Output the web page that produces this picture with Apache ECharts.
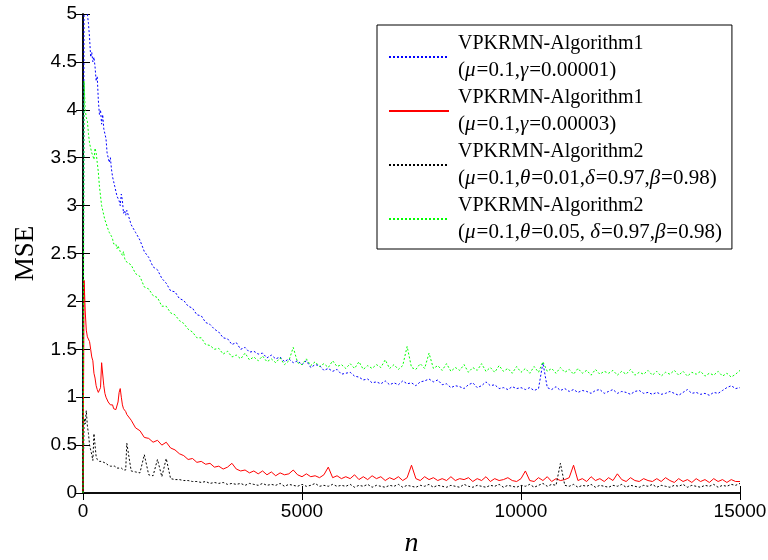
<!DOCTYPE html>
<html>
<head>
<meta charset="utf-8">
<script src="https://cdn.jsdelivr.net/npm/echarts@6/dist/echarts.min.js"></script>
<style>
  html, body { margin: 0; padding: 0; background: #fff; }
  #chart { width: 768px; height: 560px; }
</style>
</head>
<body>
<div id="chart"></div>
<script>
// Iteration index of each stored sample: every 25 up to 1000, then every 100.
const iters = [];
for (let n = 0; n <= 1000; n += 25) iters.push(n);
for (let n = 1100; n <= 15000; n += 100) iters.push(n);

// Legend text, two lines per curve.
const legendLines = [
  ['VPKRMN-Algorithm1', '(μ=0.1,γ=0.00001)'],
  ['VPKRMN-Algorithm1', '(μ=0.1,γ=0.00003)'],
  ['VPKRMN-Algorithm2', '(μ=0.1,θ=0.01,δ=0.97,β=0.98)'],
  ['VPKRMN-Algorithm2', '(μ=0.1,θ=0.05, δ=0.97,β=0.98)']
];

const xTicks = [0, 5000, 10000, 15000];
const yTicks = [0, 0.5, 1, 1.5, 2, 2.5, 3, 3.5, 4, 4.5, 5];

// MSE curves
const mseAlg1G1 = [
  0, 5.4, 5.2, 5.1, 5.0, 4.9, 4.75, 4.55, 4.6, 4.5,
  4.55, 4.45, 4.3, 4.35, 4.1, 3.95, 4.0, 3.85, 3.95, 3.8,
  3.75, 3.7, 3.55, 3.5, 3.45, 3.5, 3.38, 3.3, 3.25, 3.2,
  3.15, 3.1, 3.08, 3.05, 3.0, 3.12, 3.05, 2.92, 2.95, 2.9,
  2.95,
  2.8, 2.72, 2.64, 2.52, 2.46, 2.36, 2.33, 2.24, 2.19, 2.11,
  2.1, 2.03, 2.01, 1.95, 1.93, 1.86, 1.85, 1.78, 1.76, 1.71,
  1.68, 1.62, 1.61, 1.55, 1.57, 1.5, 1.52, 1.47, 1.48, 1.45,
  1.46, 1.41, 1.44, 1.4, 1.42, 1.37, 1.4, 1.36, 1.38, 1.34,
  1.38, 1.31, 1.34, 1.33, 1.28, 1.3, 1.27, 1.29, 1.24, 1.25,
  1.26, 1.22, 1.21, 1.18, 1.19, 1.15, 1.16, 1.14, 1.17, 1.13,
  1.15, 1.13, 1.17, 1.14, 1.15, 1.12, 1.16, 1.17, 1.19, 1.16,
  1.18, 1.13, 1.14, 1.1, 1.12, 1.11, 1.09, 1.13, 1.15, 1.1,
  1.12, 1.16, 1.12, 1.13, 1.09, 1.1, 1.08, 1.11, 1.09, 1.1,
  1.08, 1.1, 1.07, 1.09, 1.36, 1.1, 1.08, 1.11, 1.07, 1.09,
  1.06, 1.08, 1.05, 1.07, 1.06, 1.04, 1.07, 1.08, 1.04, 1.06,
  1.08, 1.04, 1.06, 1.05, 1.03, 1.06, 1.07, 1.04, 1.05, 1.03,
  1.05, 1.03, 1.04, 1.06, 1.04, 1.02, 1.05, 1.08, 1.04, 1.05,
  1.03, 1.04, 1.02, 1.05, 1.04, 1.07, 1.1, 1.12, 1.09, 1.1
];

const mseAlg1G3 = [
  0, 2.22, 1.9, 1.7, 1.63, 1.62, 1.58, 1.5, 1.42, 1.38,
  1.25, 1.2, 1.12, 1.08, 1.05, 1.04, 1.1, 1.36, 1.34, 1.12,
  1.04, 1.0, 0.98, 0.95, 0.94, 0.92, 0.9, 0.92, 0.88, 0.9,
  0.87, 0.88, 0.95, 1.05, 1.09, 1.0, 0.92, 0.88, 0.86, 0.85,
  0.82,
  0.76, 0.68, 0.65, 0.58, 0.57, 0.53, 0.55, 0.5, 0.53, 0.47,
  0.45, 0.41, 0.39, 0.35, 0.36, 0.32, 0.33, 0.3, 0.31, 0.27,
  0.28, 0.25, 0.27, 0.31, 0.25, 0.23, 0.24, 0.21, 0.23, 0.2,
  0.23, 0.19, 0.22, 0.18, 0.21, 0.19, 0.2, 0.24, 0.19, 0.17,
  0.2, 0.17, 0.18, 0.16, 0.19, 0.27, 0.16, 0.18, 0.15, 0.17,
  0.15, 0.19, 0.14, 0.17, 0.14, 0.18, 0.15, 0.17, 0.13, 0.16,
  0.14, 0.17, 0.13, 0.16, 0.29, 0.15, 0.13, 0.17, 0.14, 0.16,
  0.13, 0.15, 0.13, 0.17, 0.13, 0.15, 0.14, 0.16, 0.12, 0.15,
  0.13, 0.17, 0.12, 0.15, 0.13, 0.14, 0.16, 0.13, 0.12, 0.15,
  0.23, 0.13, 0.12, 0.16, 0.13, 0.17, 0.12, 0.15, 0.13, 0.14,
  0.16, 0.29, 0.13, 0.15, 0.12, 0.17, 0.13, 0.15, 0.12, 0.16,
  0.13, 0.2, 0.14, 0.12, 0.16, 0.13, 0.12, 0.15, 0.13, 0.12,
  0.15, 0.12, 0.16, 0.13, 0.11, 0.15, 0.12, 0.14, 0.11, 0.15,
  0.12, 0.14, 0.11, 0.15, 0.12, 0.14, 0.11, 0.14, 0.12, 0.12
];

const mseAlg2T1 = [
  0, 0.78, 0.72, 0.86, 0.7, 0.62, 0.5, 0.45, 0.4, 0.34,
  0.62, 0.6, 0.38, 0.35, 0.34, 0.33, 0.32, 0.33, 0.31, 0.32,
  0.3, 0.31, 0.3, 0.29, 0.3, 0.28, 0.29, 0.28, 0.27, 0.28,
  0.27, 0.26, 0.27, 0.26, 0.25, 0.26, 0.25, 0.24, 0.25, 0.24,
  0.52,
  0.23, 0.22, 0.21, 0.4, 0.19, 0.18, 0.35, 0.17, 0.36, 0.15,
  0.14, 0.14, 0.13, 0.13, 0.12, 0.12, 0.11, 0.12, 0.1, 0.11,
  0.1, 0.11, 0.09, 0.1, 0.09, 0.1, 0.08, 0.1, 0.09, 0.08,
  0.1, 0.08, 0.09, 0.08, 0.1, 0.07, 0.09, 0.08, 0.07, 0.09,
  0.07, 0.08, 0.1, 0.07, 0.08, 0.07, 0.09, 0.07, 0.08, 0.07,
  0.09, 0.06, 0.08, 0.07, 0.09, 0.06, 0.08, 0.07, 0.06, 0.08,
  0.07, 0.09, 0.06, 0.08, 0.07, 0.06, 0.08, 0.07, 0.09, 0.06,
  0.08, 0.07, 0.06, 0.08, 0.07, 0.06, 0.09, 0.07, 0.06, 0.08,
  0.07, 0.06, 0.08, 0.07, 0.09, 0.06, 0.08, 0.07, 0.06, 0.08,
  0.07, 0.09, 0.06, 0.08, 0.1, 0.07, 0.09, 0.08, 0.31, 0.08,
  0.07, 0.09, 0.06, 0.08, 0.07, 0.09, 0.06, 0.08, 0.07, 0.06,
  0.08, 0.07, 0.09, 0.06, 0.08, 0.07, 0.06, 0.08, 0.07, 0.09,
  0.06, 0.08, 0.07, 0.06, 0.08, 0.07, 0.09, 0.06, 0.08, 0.07,
  0.06, 0.08, 0.07, 0.09, 0.06, 0.08, 0.07, 0.09, 0.08, 0.1
];

const mseAlg2T5 = [
  0, 4.3, 4.0, 3.92, 3.88, 3.75, 3.65, 3.6, 3.55, 3.52,
  3.48, 3.6, 3.55, 3.45, 3.35, 3.2, 3.1, 3.0, 2.95, 2.9,
  2.85, 2.82, 2.78, 2.75, 2.72, 2.7, 2.68, 2.65, 2.6, 2.62,
  2.6, 2.55, 2.58, 2.55, 2.52, 2.5, 2.48, 2.52, 2.45, 2.42,
  2.4,
  2.38, 2.29, 2.26, 2.15, 2.13, 2.06, 2.04, 1.95, 1.95, 1.88,
  1.86, 1.8, 1.77, 1.71, 1.68, 1.62, 1.62, 1.55, 1.54, 1.5,
  1.51, 1.45, 1.48, 1.42, 1.44, 1.4, 1.46, 1.39, 1.42, 1.38,
  1.43, 1.37, 1.4, 1.36, 1.41, 1.34, 1.38, 1.52, 1.36, 1.34,
  1.4, 1.33, 1.37, 1.32, 1.35, 1.31, 1.38, 1.32, 1.34, 1.3,
  1.35, 1.3, 1.37, 1.29, 1.33, 1.3, 1.34, 1.31, 1.39, 1.3,
  1.34, 1.29, 1.33, 1.53, 1.31, 1.29, 1.35, 1.3, 1.46, 1.3,
  1.33, 1.28, 1.35, 1.27, 1.31, 1.28, 1.34, 1.26, 1.31, 1.28,
  1.35, 1.27, 1.31, 1.26, 1.33, 1.27, 1.3, 1.25, 1.32, 1.26,
  1.3, 1.25, 1.32, 1.26, 1.37, 1.27, 1.3, 1.25, 1.31, 1.26,
  1.29, 1.24, 1.3, 1.25, 1.28, 1.23, 1.29, 1.24, 1.27, 1.25,
  1.28, 1.23, 1.27, 1.24, 1.29, 1.23, 1.26, 1.24, 1.28, 1.23,
  1.27, 1.22, 1.26, 1.24, 1.28, 1.23, 1.27, 1.22, 1.26, 1.24,
  1.27, 1.22, 1.25, 1.23, 1.27, 1.22, 1.25, 1.21, 1.24, 1.28
];

const curves = [mseAlg1G1, mseAlg1G3, mseAlg2T1, mseAlg2T5];
const colors = ['#0000ff', '#ff0000', '#000000', '#00ff00'];
const dashes = [[2, 2], 'solid', [2, 2], [2, 2]];

const names = legendLines.map(l => l[0] + ' ' + l[1]);

// Second legend line: Greek symbols in italics, the rest upright.
function paramLine(s) {
  return s.split(/([μγθδβ])/).filter(p => p.length)
    .map(p => /[μγθδβ]/.test(p) ? '{i|' + p + '}' : '{q|' + p + '}').join('');
}

const chart = echarts.init(document.getElementById('chart'), null, { renderer: 'canvas' });

const frameLine = { show: true, lineStyle: { color: '#000', width: 1.5 } };
const innerTick = { show: true, inside: true, length: 7, lineStyle: { color: '#000', width: 1 } };

chart.setOption({
  animation: false,
  backgroundColor: '#fff',
  grid: { left: 83, right: 28, top: 14, bottom: 67, containLabel: false, outerBoundsMode: 'none' },
  legend: {
    data: names,
    orient: 'vertical',
    left: 377,
    top: 25,
    padding: [5, 10, 3, 11],
    itemGap: 0,
    itemWidth: 60,
    itemHeight: 14,
    borderColor: '#000',
    borderWidth: 1,
    backgroundColor: '#fff',
    selectedMode: false,
    itemStyle: { opacity: 0 },
    formatter: function (name) {
      const k = names.indexOf(name);
      const l = legendLines[k];
      return '{p|' + l[0] + '}\n' + paramLine(l[1]);
    },
    textStyle: {
      fontFamily: 'Liberation Serif',
      fontSize: 20,
      lineHeight: 27,
      color: '#000',
      padding: [0, 0, 0, 4],
      rich: {
        p: { fontFamily: 'Liberation Serif', fontSize: 20, lineHeight: 27, color: '#000' },
        q: { fontFamily: 'Liberation Serif', fontSize: 21, lineHeight: 27, color: '#000' },
        i: { fontFamily: 'Liberation Serif', fontStyle: 'italic', fontSize: 21, lineHeight: 27, color: '#000', padding: [0, 1, 0, 0] }
      }
    }
  },
  xAxis: [
    {
      type: 'value', position: 'bottom',
      min: xTicks[0], max: xTicks[xTicks.length - 1], interval: xTicks[1] - xTicks[0],
      axisLine: frameLine, axisTick: innerTick, splitLine: { show: false },
      axisLabel: { color: '#000', fontFamily: 'Liberation Sans', fontSize: 19, margin: 9, formatter: v => String(v) },
      name: 'n', nameLocation: 'middle', nameGap: 37,
      nameTextStyle: { fontFamily: 'Liberation Serif', fontStyle: 'italic', fontSize: 28, color: '#000' }
    },
    {
      type: 'value', position: 'top',
      min: xTicks[0], max: xTicks[xTicks.length - 1], interval: xTicks[1] - xTicks[0],
      axisLine: frameLine, axisTick: innerTick, splitLine: { show: false },
      axisLabel: { show: false }
    }
  ],
  yAxis: [
    {
      type: 'value', position: 'left',
      min: yTicks[0], max: yTicks[yTicks.length - 1], interval: yTicks[1] - yTicks[0],
      axisLine: frameLine, axisTick: innerTick, splitLine: { show: false },
      axisLabel: { color: '#000', fontFamily: 'Liberation Sans', fontSize: 19, margin: 6, formatter: v => String(v) },
      name: 'MSE', nameLocation: 'middle', nameGap: 44,
      nameTextStyle: { fontFamily: 'Liberation Serif', fontSize: 27, color: '#000' }
    },
    {
      type: 'value', position: 'right',
      min: yTicks[0], max: yTicks[yTicks.length - 1], interval: yTicks[1] - yTicks[0],
      axisLine: frameLine, axisTick: innerTick, splitLine: { show: false },
      axisLabel: { show: false }
    }
  ],
  series: curves.map((vals, k) => ({
    name: names[k],
    type: 'line',
    xAxisIndex: 0,
    yAxisIndex: 0,
    symbol: 'none',
    clip: true,
    data: vals.map((v, i) => [iters[i], v]),
    lineStyle: { color: colors[k], width: 1, type: dashes[k] },
    itemStyle: { color: colors[k] }
  }))
});
</script>
</body>
</html>
